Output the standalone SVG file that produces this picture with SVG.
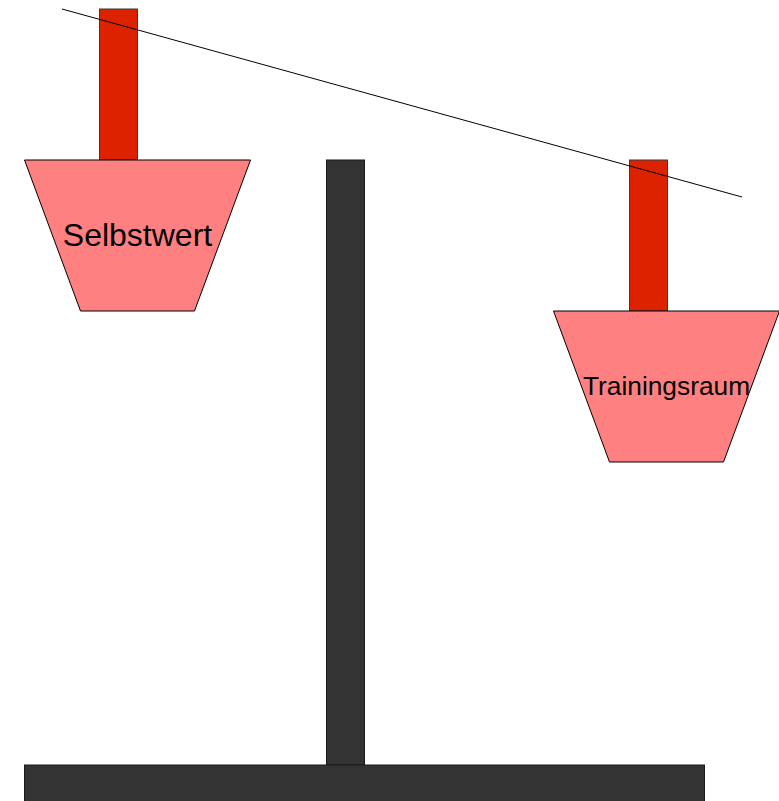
<svg xmlns="http://www.w3.org/2000/svg" width="779" height="801" viewBox="0 0 779 801">
  <style>
    .post { fill: #dd2200; stroke: #3a3a3a; stroke-width: 1; }
    .pan { fill: #ff8080; stroke: #000000; stroke-width: 1; }
    .stand { fill: #333333; stroke: #1a1a1a; stroke-width: 1; }
    .label { font-family: "Liberation Sans", Arial, sans-serif; fill: #000000; text-anchor: middle; }
    .beam { stroke: #000000; stroke-width: 1; fill: none; }
  </style>
  <rect width="779" height="801" fill="#ffffff"/>

  <!-- stand: column and base -->
  <g id="stand">
    <rect class="stand" x="326.5" y="160" width="38" height="605"/>
    <rect class="stand" x="24.5" y="765" width="680" height="40"/>
  </g>

  <!-- left pan -->
  <g id="selbstwert">
    <rect class="post" x="99.5" y="9" width="38" height="151"/>
    <polygon class="pan" points="24.5,160 250.5,160 194.5,311 80.5,311"/>
    <text class="label" x="137.5" y="246" font-size="32">Selbstwert</text>
  </g>

  <!-- right pan -->
  <g id="trainingsraum">
    <rect class="post" x="629.5" y="160" width="38" height="151"/>
    <polygon class="pan" points="553.5,311 779.5,311 723.5,462 609.5,462"/>
    <text class="label" x="666.5" y="395" font-size="26.3">Trainingsraum</text>
  </g>

  <!-- beam line across both posts -->
  <g id="connectors">
    <line class="beam" x1="62" y1="9" x2="742" y2="197"/>
  </g>
</svg>
